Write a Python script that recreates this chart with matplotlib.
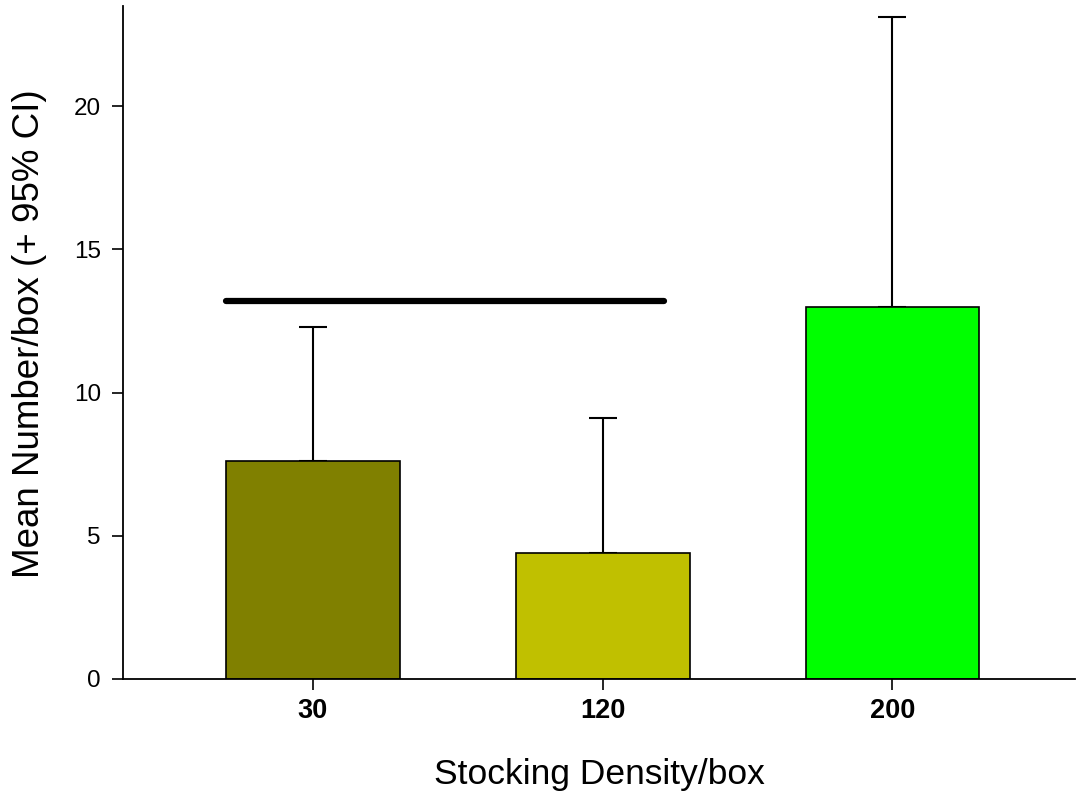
import numpy as np
import matplotlib
matplotlib.use("Agg")
import matplotlib.pyplot as plt

plt.rcParams['font.family'] = ['Liberation Sans', 'DejaVu Sans']

# data
densities = ["30", "120", "200"]
means = [7.6, 4.4, 13.0]
ci_upper = [4.7, 4.7, 10.1]  # + 95% CI above the mean
bar_colors = ["#808000", "#C0C000", "#00FF00"]
sig_line_y = 13.2

fig = plt.figure(figsize=(10.77, 7.96), dpi=100)
ax = fig.add_axes([0.1142, 0.147, 0.884, 0.8455])

x = np.arange(len(densities))
ax.bar(x, means, width=0.6, color=bar_colors, edgecolor="black", linewidth=1.2, zorder=2)
ax.errorbar(x, means, yerr=[np.zeros(len(means)), ci_upper], fmt="none",
            ecolor="black", elinewidth=1.5, capsize=10, capthick=1.5, zorder=1)

# significance bar over 30 and 120
ax.plot([x[0] - 0.3, x[1] + 0.21], [sig_line_y, sig_line_y], color="black",
        linewidth=4.5, solid_capstyle="round")

ax.set_xlim(-0.655, 2.63)
ax.set_ylim(0, 23.5)
ax.set_yticks([0, 5, 10, 15, 20])
ax.set_xticks(x)
ax.set_xticklabels(densities, fontweight="bold")
ax.tick_params(axis="both", direction="out", width=1.2, length=8)
ax.tick_params(axis="y", labelsize=17.5, pad=8)
ax.tick_params(axis="x", labelsize=19.5, pad=6)

for side in ["top", "right"]:
    ax.spines[side].set_visible(False)
ax.spines["left"].set_linewidth(1.3)
ax.spines["bottom"].set_linewidth(1.3)

ax.set_xlabel("Stocking Density/box", fontsize=25.5, labelpad=24)
ax.set_ylabel("Mean Number/box (+ 95% CI)", fontsize=26.5)
ax.yaxis.set_label_coords(-0.08, 0.513)

fig.savefig("out.png", dpi=100)
